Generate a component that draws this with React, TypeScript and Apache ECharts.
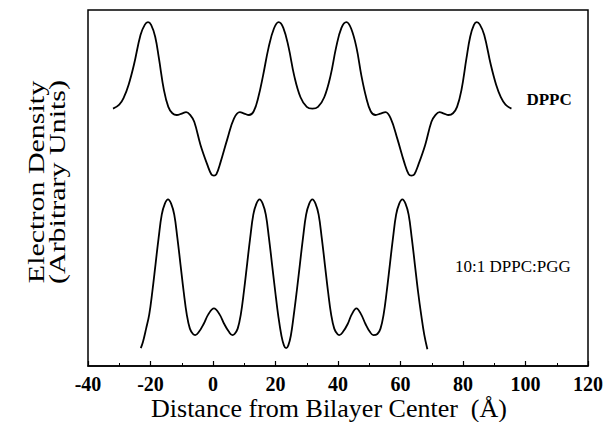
import React, { useEffect, useRef } from "react";
import * as echarts from "echarts";

const xTicks = [-40, -20, 0, 20, 40, 60, 80, 100, 120];

const dppcX = [-32, -30, -28.5, -27, -25.3, -23.2, -21.8, -20.8, -19.8, -18.5, -17.3, -15.7, -14.3, -13, -11.6, -10, -8.6, -7.2, -6, -4, -1.8, -0.5, 0.3, 1.1, 2.4, 4.6, 6.7, 8.6, 10, 11.5, 13, 14.5, 16, 17.8, 19.5, 21, 22.5, 24.2, 26, 28, 30, 31.8, 33.6, 35.6, 37.6, 39.4, 41.1, 42.7, 44.2, 45.9, 47.5, 49, 50.5, 52, 53.6, 55.2, 56.9, 59, 61.2, 62.6, 63.5, 64.4, 65.7, 67.9, 69.9, 71.1, 72.5, 73.9, 75.4, 76.8, 78.1, 79.5, 81.1, 82.3, 83.5, 84.4, 85.4, 86.8, 88.9, 90.6, 92.1, 93.6, 95.5];
const dppcY = [72.3, 73.4, 75.5, 79.0, 84.6, 93.0, 95.9, 96.6, 95.8, 92.5, 86.4, 77.5, 72.8, 71.0, 70.5, 70.9, 71.3, 70.4, 68.6, 62.1, 56.5, 53.8, 53.5, 53.9, 57.2, 63.8, 69.5, 71.3, 70.9, 70.5, 71.5, 75.5, 81.5, 89.5, 94.8, 96.6, 95.0, 89.5, 81.5, 75.5, 72.8, 72.3, 72.8, 75.5, 81.5, 89.5, 95.0, 96.6, 94.8, 89.5, 81.5, 75.5, 71.5, 70.5, 70.9, 71.3, 69.5, 63.8, 57.2, 53.9, 53.5, 53.8, 56.5, 62.1, 68.6, 70.4, 71.3, 70.9, 70.5, 71.0, 72.8, 77.5, 86.4, 92.5, 95.8, 96.6, 95.9, 93.0, 84.6, 79.0, 75.5, 73.4, 72.3];

const pggX = [-23.1, -22.4, -21.4, -20.4, -19.4, -18.4, -17.4, -16.4, -15.4, -14.4, -13.4, -12.4, -11.4, -10.4, -9.4, -8.4, -7.4, -6.4, -5.7, -4.5, -3, -1.5, 0.3, 2.1, 3.6, 5.1, 6.2, 6.9, 7.9, 8.9, 9.9, 10.9, 11.9, 12.9, 13.9, 14.9, 15.9, 16.9, 17.9, 18.9, 19.9, 20.9, 21.9, 22.7, 23.4, 24.1, 24.9, 25.8, 26.8, 27.8, 28.8, 29.8, 30.8, 31.8, 32.8, 33.8, 34.8, 35.8, 36.8, 37.8, 38.8, 39.8, 40.4, 41.6, 43.1, 44.4, 45.9, 47.4, 48.8, 50.2, 51.3, 52.6, 53.6, 54.6, 55.6, 56.6, 57.6, 58.6, 59.6, 60.6, 61.6, 62.6, 63.6, 64.6, 65.6, 66.6, 67.6, 68.6];
const pggY = [5.0, 6.8, 10.5, 14.5, 21, 28.5, 36, 42.5, 45.6, 46.8, 45.6, 42.5, 36, 28.5, 21, 14.5, 10.5, 9.0, 8.7, 9.6, 11.8, 14.5, 16.2, 14.5, 11.8, 9.6, 8.7, 9.0, 10.5, 14.5, 21, 28.5, 36, 42.5, 45.6, 46.8, 45.6, 42.5, 36, 28.5, 21, 14, 8.5, 5.8, 5.0, 5.8, 8.5, 14, 21, 28.5, 36, 42.5, 45.6, 46.8, 45.6, 42.5, 36, 28.5, 21, 14.5, 10.5, 9.0, 8.7, 9.6, 11.8, 14.5, 16.2, 14.5, 11.8, 9.6, 8.7, 9.0, 10.5, 14.5, 21, 28.5, 36, 42.5, 45.6, 46.8, 45.6, 42.5, 36, 28.5, 21, 14.5, 8.8, 4.7];

const seriesNames = ["DPPC", "10:1 DPPC:PGG"];
const xTitle = "Distance from Bilayer Center  (Å)";
const yTitle = ["Electron Density", "(Arbitrary Units)"];

const SERIF = "Liberation Serif";

export default function App() {
  const ref = useRef<HTMLDivElement>(null);
  useEffect(() => {
    if (!ref.current) return;
    const chart = echarts.init(ref.current, null, { renderer: "svg" });
    const zip = (xs: number[], ys: number[]) => xs.map((x, i) => [x, ys[i]]);
    chart.setOption({
      animation: false,
      backgroundColor: "#fff",
      textStyle: { fontFamily: SERIF },
      grid: {
        left: 88,
        top: 10,
        right: 25,
        bottom: 64,
        show: true,
        borderColor: "#000",
        borderWidth: 1.5,
        backgroundColor: "transparent",
      },
      xAxis: {
        type: "value",
        min: xTicks[0],
        max: xTicks[xTicks.length - 1],
        interval: 20,
        axisLine: { show: true, onZero: false, lineStyle: { color: "#000", width: 1.5 } },
        axisTick: { show: true, inside: true, length: 5, lineStyle: { color: "#000", width: 1.2 } },
        minorTick: { show: true, splitNumber: 2, length: 3, lineStyle: { color: "#000", width: 1 } },
        splitLine: { show: false },
        axisLabel: {
          color: "#000",
          fontFamily: SERIF,
          fontWeight: "bold",
          fontSize: 20,
          margin: 8,
        },
      },
      yAxis: {
        type: "value",
        min: 0,
        max: 100,
        axisLine: { show: false },
        axisTick: { show: false },
        axisLabel: { show: false },
        splitLine: { show: false },
      },
      series: [
        {
          name: seriesNames[0],
          type: "line",
          data: zip(dppcX, dppcY),
          smooth: 0.4,
          showSymbol: false,
          lineStyle: { color: "#000", width: 1.8 },
          endLabel: {
            show: true,
            formatter: seriesNames[0],
            color: "#000",
            fontFamily: SERIF,
            fontWeight: "bold",
            fontSize: 17,
            distance: 15,
            offset: [0, -9],
          },
        },
        {
          name: seriesNames[1],
          type: "line",
          data: zip(pggX, pggY),
          smooth: 0.4,
          showSymbol: false,
          lineStyle: { color: "#000", width: 1.8 },
        },
      ],
      graphic: [
        {
          type: "text",
          x: 455,
          y: 266,
          style: {
            text: seriesNames[1],
            fill: "#000",
            fontFamily: SERIF,
            fontSize: 17,
            textAlign: "left",
            textVerticalAlign: "middle",
          },
        },
        {
          type: "text",
          x: 329,
          y: 408,
          style: {
            text: xTitle,
            fill: "#000",
            fontFamily: SERIF,
            fontSize: 26,
            textAlign: "center",
            textVerticalAlign: "middle",
          },
        },
        {
          type: "text",
          x: 36,
          y: 182,
          rotation: Math.PI / 2,
          scaleX: 1.25,
          style: {
            text: yTitle[0],
            fill: "#000",
            fontFamily: SERIF,
            fontSize: 24,
            textAlign: "center",
            textVerticalAlign: "middle",
          },
        },
        {
          type: "text",
          x: 57,
          y: 182,
          rotation: Math.PI / 2,
          scaleX: 1.25,
          style: {
            text: yTitle[1],
            fill: "#000",
            fontFamily: SERIF,
            fontSize: 24,
            textAlign: "center",
            textVerticalAlign: "middle",
          },
        },
      ],
    });
    return () => chart.dispose();
  }, []);
  return <div ref={ref} style={{ width: 613, height: 430, margin: -8 }} />;
}
